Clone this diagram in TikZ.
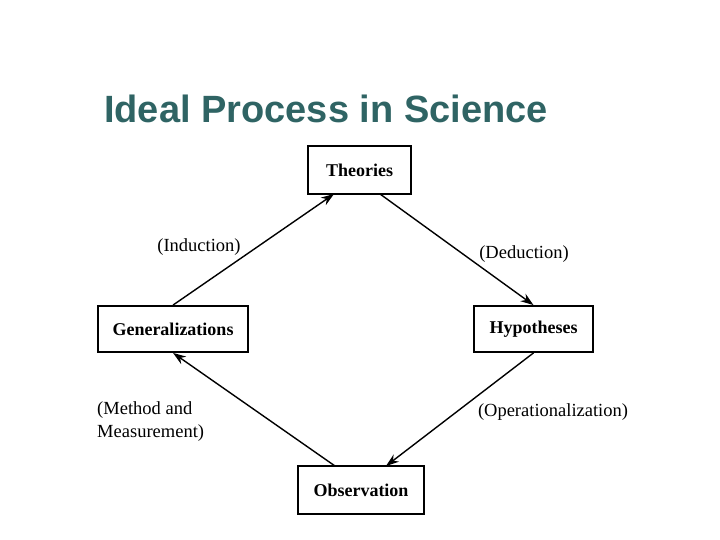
\documentclass[tikz,border=0pt]{standalone}
\usepackage{fontspec}
\setmainfont{Liberation Serif}
\newfontfamily\titlefont{Liberation Sans}
\usetikzlibrary{arrows.meta}
\definecolor{titleteal}{HTML}{2F6464}
\begin{document}
\begin{tikzpicture}[x=1pt,y=-1pt,
  box/.style={draw=black,line width=1.8pt,minimum height=46pt,inner sep=0pt,font=\fontsize{18}{21}\selectfont\bfseries},
  lbl/.style={font=\fontsize{18.5}{23}\selectfont,inner sep=0pt},
  conn/.style={line width=1.4pt,-{Stealth[length=13pt,width=9pt]}}]
\useasboundingbox (0,0) rectangle (720,540);
\node[font=\titlefont\fontsize{38}{42}\selectfont\bfseries,text=titleteal,anchor=west,inner sep=0pt] (title) at (104,109) {Ideal Process in Science};
\node[box,minimum width=103pt,minimum height=48pt] (theo) at (359.5,170) {Theories};
\node[box,minimum width=150pt] (gen) at (173,329) {\raisebox{-2pt}{Generalizations}};
\node[box,minimum width=119pt] (hyp) at (533.5,329) {\raisebox{-3pt}{Hypotheses}};
\node[box,minimum width=126pt,minimum height=48pt] (obs) at (361,490) {Observation};
\coordinate (t1) at (334,194);
\coordinate (t2) at (380,194);
\coordinate (o1) at (335,466);
\coordinate (o2) at (386,466);
\draw[conn] (gen.north) -- (t1);
\draw[conn] (t2) -- (hyp.north);
\draw[conn] (hyp.south) -- (o2);
\draw[conn] (o1) -- (gen.south);
\node[lbl] (ind) at (199,247) {(Induction)};
\node[lbl] (ded) at (524,254) {(Deduction)};
\node[lbl,anchor=north west,align=left] (meth) at (97,401) {(Method and\\Measurement)};
\node[lbl] (oper) at (553,412) {(Operationalization)};
\end{tikzpicture}
\end{document}
